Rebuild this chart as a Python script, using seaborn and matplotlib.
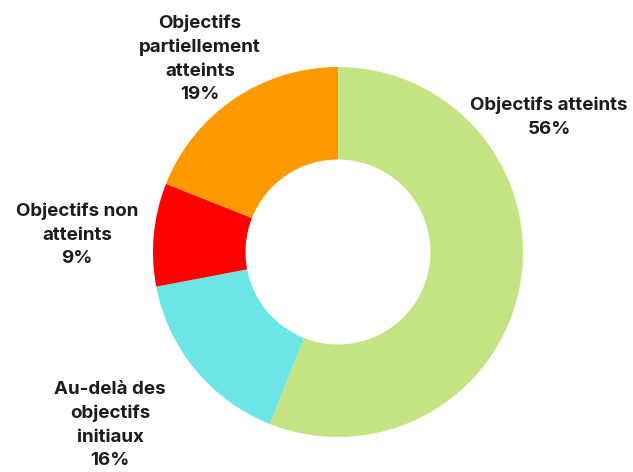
import matplotlib
matplotlib.use("Agg")
import matplotlib.pyplot as plt
import seaborn as sns

categories = ["Objectifs atteints", "Au-delà des objectifs initiaux",
              "Objectifs non atteints", "Objectifs partiellement atteints"]
values = [56, 16, 9, 19]
labels = ["Objectifs atteints\n56%", "Au-delà des\nobjectifs\ninitiaux\n16%",
          "Objectifs non\natteints\n9%", "Objectifs\npartiellement\natteints\n19%"]
colors = ["#c4e483", "#6be5e6", "#fe0000", "#fe9900"]

sns.set_theme(style="white")
plt.rcParams['font.family'] = ['Inter', 'DejaVu Sans']

W, H = 633, 472
fig = plt.figure(figsize=(W / 100, H / 100), dpi=100)
ax = fig.add_axes([0, 0, 1, 1])

cx, cy, r = 338, H - 252, 185
ax.pie(values, colors=colors, startangle=90, counterclock=False,
       center=(cx, cy), radius=r, frame=True,
       wedgeprops=dict(width=r * 0.5, edgecolor="none", linewidth=0))
ax.set_xlim(0, W)
ax.set_ylim(0, H)
ax.set_aspect("equal")
ax.axis("off")

# label positions in pixel coords (x, y from top)
pos = [(549, 117), (110, 425), (77, 235), (200, 59)]
for lab, (px, py) in zip(labels, pos):
    ax.text(px, H - py, lab, ha="center", va="center", fontsize=13.5,
            fontweight="bold", color="#1c1c1c", linespacing=1.5)

fig.savefig("out.png", dpi=100)
